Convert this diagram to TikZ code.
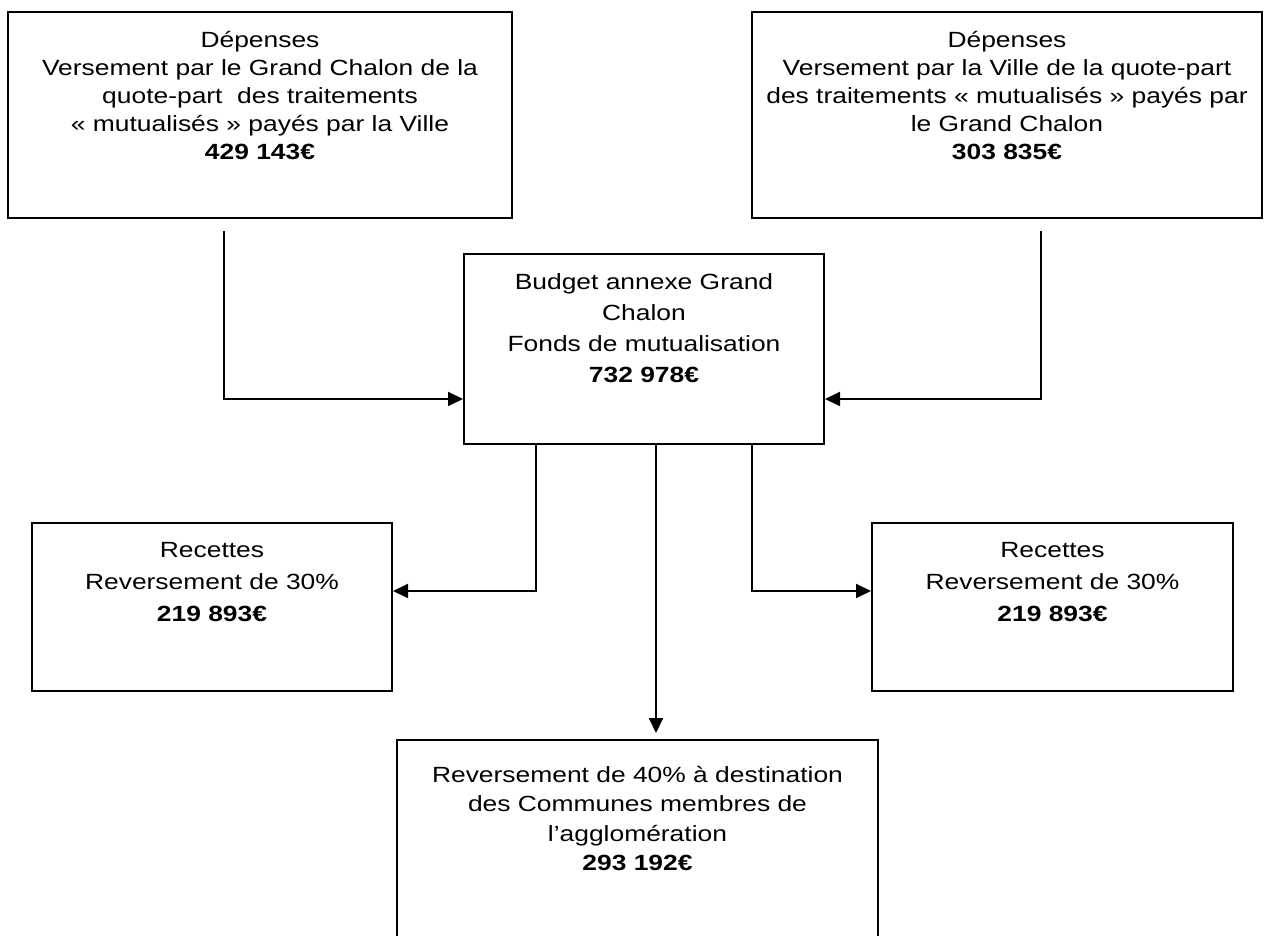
\documentclass[tikz,border=0pt]{standalone}
\usepackage{fontspec}
\setmainfont[FakeStretch=1.2]{Liberation Sans}
\usetikzlibrary{arrows.meta,calc}
\begin{document}
\tikzset{
  box/.style={draw, line width=1pt, inner sep=0pt},
  txt/.style={align=center, inner sep=0pt, anchor=north},
  conn/.style={line width=1pt, -{Triangle[length=7.5pt,width=7pt]}},
}
\begin{tikzpicture}[x=0.5pt,y=-0.5pt]
\useasboundingbox (0,0) rectangle (1269,936);
\clip (0,0) rectangle (1269,936);
% boxes
\node[box, minimum width=252pt, minimum height=103pt] (tl) at (260,115) {};
\node[box, minimum width=255pt, minimum height=103pt] (tr) at (1007,115) {};
\node[box, minimum width=180pt, minimum height=95pt] (c) at (644,349) {};
\node[box, minimum width=180pt, minimum height=84pt] (l) at (212,607) {};
\node[box, minimum width=180.5pt, minimum height=84pt] (r) at (1052.5,607) {};
\node[box, minimum width=240.5pt, minimum height=103pt] (b) at (637.5,843) {};
% texts
\node[txt, font={\fontsize{11}{14}\selectfont}] (tlt) at (260,23)
  {\rule{0pt}{12pt}Dépenses\\Versement par le Grand Chalon de la\\quote-part\ \ des traitements\\« mutualisés » payés par la Ville\\\textbf{429 143€}};
\node[txt, font={\fontsize{11}{14}\selectfont}] (trt) at (1007,23)
  {\rule{0pt}{12pt}Dépenses\\Versement par la Ville de la quote-part\\des traitements « mutualisés » payés par\\le Grand Chalon\\\textbf{303 835€}};
\node[txt, font={\fontsize{11}{15.5}\selectfont}] (ct) at (644,265)
  {\rule{0pt}{12pt}Budget annexe Grand\\Chalon\\Fonds de mutualisation\\\textbf{732 978€}};
\node[txt, font={\fontsize{11}{16}\selectfont}] (lt) at (212,533)
  {\rule{0pt}{12pt}Recettes\\Reversement de 30\%\\\textbf{219 893€}};
\node[txt, font={\fontsize{11}{16}\selectfont}] (rt) at (1052.5,533)
  {\rule{0pt}{12pt}Recettes\\Reversement de 30\%\\\textbf{219 893€}};
\node[txt, font={\fontsize{11}{14.7}\selectfont}] (bt) at (637.5,758)
  {\rule{0pt}{12pt}Reversement de 40\% à destination\\des Communes membres de\\l’agglomération\\\textbf{293 192€}};
% connector helpers
\coordinate (tlA) at (224,231);
\coordinate (trA) at (1041,231);
\coordinate (hin) at (0,399);
\coordinate (hout) at (0,591);
\coordinate (cl) at (536,0);
\coordinate (cm) at (656,0);
\coordinate (cr) at (752,0);
% connectors
\draw[conn] (tlA) |- (c.west |- hin);
\draw[conn] (trA) |- (c.east |- hin);
\draw[conn] (c.south -| cl) |- (l.east |- hout);
\draw[conn] (c.south -| cr) |- (r.west |- hout);
\draw[conn, shorten >=3pt] (c.south -| cm) -- (b.north -| cm);
\end{tikzpicture}
\end{document}
